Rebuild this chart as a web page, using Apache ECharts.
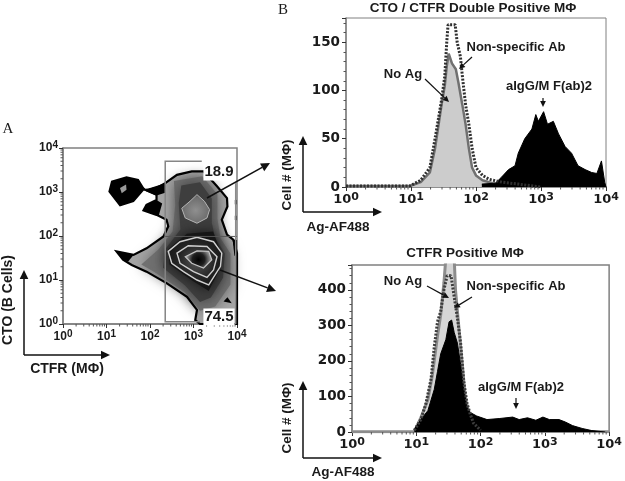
<!DOCTYPE html>
<html>
<head>
<meta charset="utf-8">
<style>
  html, body { margin: 0; padding: 0; background: #fff; }
  #chart { width: 625px; height: 481px; filter: blur(0.5px); }
</style>
<script src="https://cdn.jsdelivr.net/npm/echarts@6/dist/echarts.min.js"></script>
</head>
<body>
<div id="chart"></div>
<script>
// all x positions and panel A contours are in log10 decades, converted below
var topNoAgX = [0, 0.98, 1.15, 1.29, 1.37, 1.47, 1.52, 1.55, 1.58, 1.63, 1.69, 1.73, 1.79, 1.84, 1.89, 1.94, 2.0, 2.1, 2.25, 2.5, 2.7, 3.0];
var topNoAgY = [1, 1, 5, 15, 40, 85, 105, 125, 138, 128, 122, 108, 85, 65, 40, 20, 12, 7, 4, 3, 2, 0];
var topNonSpecX = [0, 0.98, 1.15, 1.29, 1.37, 1.42, 1.47, 1.52, 1.55, 1.57, 1.68, 1.71, 1.76, 1.79, 1.84, 1.89, 1.94, 2.0, 2.1, 2.2, 2.4, 2.65, 3.0];
var topNonSpecY = [1, 1, 7, 20, 50, 70, 90, 115, 150, 168, 168, 150, 135, 115, 85, 65, 40, 20, 12, 8, 5, 3, 0];
var topIgX = [2.09, 2.3, 2.39, 2.5, 2.6, 2.65, 2.75, 2.86, 2.92, 2.96, 3.04, 3.1, 3.19, 3.27, 3.37, 3.47, 3.57, 3.68, 3.78, 3.86, 3.93, 3.98, 4];
var topIgY = [3, 4, 10, 18, 22, 35, 50, 60, 75, 68, 78, 65, 68, 55, 42, 35, 22, 18, 15, 14, 27, 5, 0];

var botNoAgX = [0, 0.97, 1.07, 1.18, 1.25, 1.33, 1.38, 1.43, 1.46, 1.59, 1.61, 1.66, 1.71, 1.76, 1.82, 1.89, 2.0, 4];
var botNoAgY = [1, 1, 40, 90, 160, 270, 330, 420, 490, 490, 400, 300, 200, 100, 50, 15, 3, 1];
var botNonSpecX = [0.97, 1.07, 1.15, 1.23, 1.28, 1.33, 1.38, 1.43, 1.48, 1.54, 1.59, 1.64, 1.69, 1.74, 1.79, 1.84, 1.89, 2.0];
var botNonSpecY = [5, 35, 80, 150, 240, 310, 340, 400, 440, 440, 380, 320, 250, 140, 80, 50, 25, 5];
var botIgX = [0.97, 1.07, 1.18, 1.28, 1.33, 1.38, 1.46, 1.51, 1.55, 1.59, 1.64, 1.69, 1.74, 1.79, 1.84, 1.94, 2.1, 2.3, 2.5, 2.6, 2.73, 2.86, 2.97, 3.07, 3.22, 3.32, 3.43, 3.58, 3.73, 3.94];
var botIgY = [8, 35, 60, 120, 170, 220, 260, 310, 315, 280, 250, 190, 120, 70, 55, 45, 35, 38, 42, 35, 40, 33, 42, 35, 35, 28, 18, 10, 4, 0];

// panel A contour outlines, [CTFR, CTO] decades
var bodyOutline = [[2.35,3.2],[2.62,3.39],[2.96,3.47],[3.23,3.47],[3.54,3.13],[3.77,2.86],[3.78,2.67],[3.65,2.37],[3.77,2.03],[3.92,1.91],[4,1.61],[4,0],[3.15,0],[3.04,0.09],[3.08,0.32],[2.85,0.62],[2.38,0.93],[1.92,1.19],[1.58,1.34],[1.38,1.46],[1.23,1.65],[1.62,1.57],[1.92,1.72],[2.31,1.99],[2.42,2.22],[2.38,2.37],[2.15,2.48],[1.85,2.58],[1.92,2.71],[2.15,2.82],[2.15,2.94],[1.92,3.04],[2.15,3.09]];
var blobOutline = [[1.85,3.09],[1.73,3.28],[1.46,3.34],[1.12,3.24],[1.06,3.01],[1.31,2.69],[1.62,2.79],[1.85,3.05],[1.95,3.06],[2.35,3.18],[2.35,3.0],[2.15,2.94],[1.92,3.03]];
var blobCentre = [[1.31,3.09],[1.45,3.17],[1.46,3.05],[1.35,2.97]];
var notchEdge = [[1.85,2.58],[1.92,2.71],[2.15,2.82],[2.28,2.74],[2.2,2.46],[2.15,2.48]];
var tipEdge = [[1.23,1.65],[1.62,1.57],[1.5,1.42],[1.38,1.46]];
var spotEdge = [[3.69,0.51],[3.78,0.61],[3.88,0.47]];
var rightDotA = [[3.95,2.82],[3.99,2.82],[3.99,2.72],[3.95,2.72]];
var rightDotB = [[3.95,2.46],[3.99,2.46],[3.99,2.36],[3.95,2.36]];
var rightEdge = [[3.9,1.91],[4,1.91],[4,1.55],[3.94,1.55]];
// soft shading, lightest and widest first
var shadeWide = [[2.55,3.25],[3.2,3.36],[3.55,2.95],[3.55,2.4],[3.62,1.95],[3.85,1.6],[3.85,0.9],[3.5,0.4],[3.15,0.3],[2.8,0.72],[2.1,1.18],[1.8,1.35],[2.2,1.7],[2.52,2.1],[2.58,2.7]];
var shadeMid = [[2.72,3.15],[3.15,3.22],[3.42,2.85],[3.42,2.3],[3.5,1.95],[3.72,1.6],[3.68,1.05],[3.4,0.6],[3.15,0.5],[2.8,0.88],[2.3,1.28],[2.35,1.7],[2.7,2.15],[2.66,2.75]];
var shadeCore = [[2.85,2.05],[3.45,2.1],[3.6,1.7],[3.58,1.2],[3.35,0.75],[2.95,1.0],[2.45,1.35],[2.42,1.7]];
var upperPeak = [[3.08,2.94],[3.25,2.79],[3.37,2.6],[3.31,2.41],[3.08,2.29],[2.81,2.41],[2.73,2.63],[2.92,2.79]];
var lowerOuter = [[2.42,1.65],[2.69,1.87],[3.08,1.97],[3.46,1.87],[3.65,1.61],[3.62,1.31],[3.35,0.89],[3.08,1.0],[2.77,1.19],[2.5,1.38]];
var lowerMiddle = [[2.62,1.61],[2.88,1.78],[3.31,1.76],[3.54,1.53],[3.46,1.23],[3.31,1.06],[3.0,1.19],[2.69,1.38]];
var lowerInner = [[2.81,1.53],[3.08,1.66],[3.35,1.65],[3.42,1.46],[3.23,1.27],[2.96,1.38]];

var gateUpper = [[3.19,3.7],[2.35,3.7],[2.35,0.05],[3.15,0.05]];
var gateMiddle = [[2.35,1.99],[4,1.99]];
var gateRight = [[3.97,3.2],[3.97,0]];

var tickDecades = [0, 1, 2, 3];
var tickMultiples = [2, 3, 4, 5, 6, 7, 8, 9];
var topCountTicks = [0, 50, 100, 150];
var botCountTicks = [0, 100, 200, 300, 400];

var SANS = '"Liberation Sans", Arial, sans-serif';
var WIDE = '"DejaVu Sans", sans-serif';

var minorValues = [];
tickDecades.forEach(function (d) {
  tickMultiples.forEach(function (m) { minorValues.push(m * Math.pow(10, d)); });
});

function toLog(pairs) {
  return pairs.map(function (p) { return [Math.pow(10, p[0]), Math.pow(10, p[1])]; });
}

function zipHist(xs, ys) {
  return xs.map(function (x, i) { return [Math.pow(10, x), ys[i]]; });
}

// one polygon drawn through the axes of panel A
function contour(points, style, closed) {
  var real = toLog(points);
  return {
    type: 'custom',
    xAxisIndex: 0,
    yAxisIndex: 0,
    silent: true,
    data: [real[0]],
    renderItem: function (params, api) {
      return {
        type: closed === false ? 'polyline' : 'polygon',
        shape: { points: real.map(function (p) { return api.coord(p); }) },
        style: style
      };
    }
  };
}

// log-spaced short ticks, the log axis only gives even minor ticks
function logTicks(axis, horizontal) {
  return {
    type: 'custom',
    xAxisIndex: axis,
    yAxisIndex: axis,
    silent: true,
    clip: false,
    z: 6,
    data: minorValues.map(function (v) { return [v]; }),
    renderItem: function (params, api) {
      var v = api.value(0);
      var p = horizontal ? api.coord([v, axis === 0 ? 1 : 0]) : api.coord([1, v]);
      var shape = horizontal
        ? { x1: p[0], y1: p[1], x2: p[0], y2: p[1] + 2.5 }
        : { x1: p[0], y1: p[1], x2: p[0] - 2.5, y2: p[1] };
      return { type: 'line', shape: shape, style: { stroke: '#555', lineWidth: 1 } };
    }
  };
}

function histLine(axis, data, color, width, dash, fill, z) {
  var s = {
    type: 'line',
    xAxisIndex: axis,
    yAxisIndex: axis,
    data: data,
    symbol: 'none',
    silent: true,
    z: z,
    lineStyle: { color: color, width: width, type: dash || 'solid' }
  };
  if (fill) s.areaStyle = { color: fill, opacity: 1 };
  return s;
}

function logAxis(grid, size) {
  var family = size > 12 ? WIDE : SANS;
  return {
    type: 'log',
    logBase: 10,
    gridIndex: grid,
    min: 1,
    max: 10000,
    axisLine: { show: true, lineStyle: { color: '#808080', width: 1.5 } },
    axisTick: { show: true, length: 4, lineStyle: { color: '#333', width: 1 } },
    minorTick: { show: false },
    splitLine: { show: false },
    minorSplitLine: { show: false },
    axisLabel: {
      margin: 5,
      formatter: function (v) { return '{b|10}{s|' + Math.round(Math.log10(v)) + '}'; },
      rich: {
        b: { fontFamily: family, fontWeight: 'bold', fontSize: size, color: '#1a1a1a' },
        s: { fontFamily: family, fontWeight: 'bold', fontSize: size - 2, color: '#1a1a1a', verticalAlign: 'top', padding: [0, 0, 5, 0] }
      }
    }
  };
}

function countAxis(grid, max, ticks) {
  return {
    type: 'value',
    gridIndex: grid,
    min: 0,
    max: max,
    interval: ticks[1] - ticks[0],
    axisLine: { show: true, lineStyle: { color: '#808080', width: 1.5 } },
    axisTick: { show: true, length: 4, lineStyle: { color: '#333' } },
    minorTick: { show: true, splitNumber: 5, length: 2.5, lineStyle: { color: '#555' } },
    splitLine: { show: false },
    axisLabel: {
      margin: 6,
      showMaxLabel: false,
      fontFamily: WIDE,
      fontWeight: 'bold',
      fontSize: 13.5,
      color: '#1a1a1a',
      formatter: function (v) { return ticks.indexOf(v) >= 0 ? String(v) : ''; }
    }
  };
}

function label(text, x, y, size, extra) {
  var style = {
    text: text,
    x: x,
    y: y,
    fill: '#1a1a1a',
    font: 'bold ' + size + 'px ' + SANS,
    textAlign: 'center',
    textVerticalAlign: 'middle'
  };
  for (var k in extra) style[k] = extra[k];
  return { type: 'text', style: style, z: 100 };
}

function sideLabel(text, x, y, size) {
  var t = label(text, 0, 0, size);
  t.x = x;
  t.y = y;
  t.rotation = Math.PI / 2;
  return t;
}

function letter(text, x, y) {
  return label(text, x, y, 15, { font: '15px "Liberation Serif", serif' });
}

function arrow(x1, y1, x2, y2, width, head) {
  var a = Math.atan2(y2 - y1, x2 - x1);
  var bx = x2 - Math.cos(a) * head, by = y2 - Math.sin(a) * head;
  var nx = -Math.sin(a) * head * 0.48, ny = Math.cos(a) * head * 0.48;
  return [
    { type: 'line', z: 99, shape: { x1: x1, y1: y1, x2: bx, y2: by }, style: { stroke: '#111', lineWidth: width } },
    { type: 'polygon', z: 99, shape: { points: [[x2, y2], [bx + nx, by + ny], [bx - nx, by - ny]] }, style: { fill: '#111' } }
  ];
}

var innerFill = new echarts.graphic.RadialGradient(0.5, 0.5, 0.62, [
  { offset: 0, color: '#020202' },
  { offset: 0.55, color: '#1e1e1e' },
  { offset: 1, color: '#8a8a8a' }
]);
var middleFill = new echarts.graphic.RadialGradient(0.5, 0.5, 0.65, [
  { offset: 0, color: '#555' },
  { offset: 1, color: '#1c1c1c' }
]);
var outerFill = new echarts.graphic.RadialGradient(0.5, 0.5, 0.65, [
  { offset: 0, color: '#3a3a3a' },
  { offset: 1, color: '#141414' }
]);
var upperFill = new echarts.graphic.RadialGradient(0.5, 0.55, 0.6, [
  { offset: 0, color: '#8f8f8f' },
  { offset: 0.75, color: '#6e6e6e' },
  { offset: 1, color: '#3c3c3c' }
]);

var series = [
  contour(bodyOutline, { fill: '#a6a6a6' }),
  contour(shadeWide, { fill: '#707070', shadowBlur: 14, shadowColor: '#707070' }),
  contour(shadeMid, { fill: '#3e3e3e', shadowBlur: 14, shadowColor: '#3e3e3e' }),
  contour(shadeCore, { fill: '#161616', shadowBlur: 12, shadowColor: '#161616' }),
  contour(bodyOutline, { fill: 'none', stroke: '#000', lineWidth: 2.2 }),
  contour(blobOutline, { fill: '#000', stroke: '#000', lineWidth: 1.5 }),
  contour(blobCentre, { fill: '#9a9a9a' }),
  contour(notchEdge, { fill: '#000' }),
  contour(tipEdge, { fill: '#000' }),
  contour(rightEdge, { fill: '#000' }),
  contour(rightDotA, { fill: '#000' }),
  contour(rightDotB, { fill: '#000' }),
  contour(upperPeak, { fill: upperFill, stroke: '#b5b5b5', lineWidth: 1 }),
  contour(lowerOuter, { fill: outerFill, stroke: '#d0d0d0', lineWidth: 1.4 }),
  contour(lowerMiddle, { fill: middleFill, stroke: '#d0d0d0', lineWidth: 1.4 }),
  contour(lowerInner, { fill: innerFill, stroke: '#c4c4c4', lineWidth: 1.2 }),
  contour(spotEdge, { fill: '#000' }),
  contour(gateUpper, { fill: 'none', stroke: '#858585', lineWidth: 1.5 }, false),
  contour(gateMiddle, { fill: 'none', stroke: '#555', lineWidth: 1 }, false),
  contour(gateRight, { fill: 'none', stroke: '#8a8a8a', lineWidth: 1.5 }, false),
  logTicks(0, true),
  logTicks(0, false),

  histLine(1, zipHist(topNoAgX, topNoAgY), '#707070', 2.5, null, '#cccccc', 2),
  histLine(1, zipHist(topIgX, topIgY), '#000', 1, null, '#000', 3),
  histLine(1, zipHist(topNonSpecX, topNonSpecY), '#303030', 3, [2, 1.5], null, 4),
  logTicks(1, true),

  histLine(2, zipHist(botNoAgX, botNoAgY), '#8c8c8c', 3, null, '#d6d6d6', 2),
  histLine(2, zipHist(botIgX, botIgY), '#000', 1, null, '#000', 3),
  histLine(2, zipHist(botNonSpecX, botNonSpecY), '#3c3c3c', 3, [2, 1.5], null, 4),
  logTicks(2, true)
];

var graphics = [
  letter('A', 8, 129),
  letter('B', 283, 10),

  label('18.9', 219, 172, 15, { backgroundColor: '#fff', padding: [1, 1] }),
  label('74.5', 219, 317, 15, { backgroundColor: '#fff', padding: [1, 1] }),
  sideLabel('CTO (B Cells)', 8, 300, 14),
  label('CTFR (M\u03a6)', 67, 369, 14),

  label('CTO / CTFR Double Positive M\u03a6', 473, 8, 13.5),
  sideLabel('Cell # (M\u03a6)', 287, 175, 13.5),
  label('Ag-AF488', 338, 227, 13.5),
  label('Non-specific Ab', 516, 47, 13),
  label('No Ag', 403, 74, 13),
  label('aIgG/M F(ab)2', 549, 86, 13),

  label('CTFR Positive M\u03a6', 465, 253, 13.5),
  sideLabel('Cell # (M\u03a6)', 287, 418, 13.5),
  label('Ag-AF488', 343, 472, 13.5),
  label('No Ag', 403, 281, 13),
  label('Non-specific Ab', 516, 286, 13),
  label('aIgG/M F(ab)2', 521, 387, 13)
].concat(
  arrow(207, 198, 270, 163, 1.5, 9),
  arrow(220, 270, 276, 291, 1.5, 9),
  arrow(24, 355, 24, 270, 1.5, 9),
  arrow(24, 355, 110, 355, 1.5, 9),
  arrow(303, 212, 303, 136, 1.5, 9),
  arrow(303, 212, 382, 212, 1.5, 9),
  arrow(303, 458, 303, 381, 1.5, 9),
  arrow(303, 458, 382, 458, 1.5, 9),
  arrow(425, 79, 449, 102, 1.2, 6),
  arrow(472, 57, 459, 69, 1.2, 6),
  arrow(543, 98, 543, 107, 1.2, 6),
  arrow(427, 286, 449, 298, 1.2, 6),
  arrow(472, 297, 454, 308, 1.2, 6),
  arrow(516, 398, 516, 409, 1.2, 6)
);

var chart = echarts.init(document.getElementById('chart'));
chart.setOption({
  animation: false,
  backgroundColor: '#fff',
  grid: [
    { left: 63, top: 148, width: 174, height: 176, show: true, borderColor: '#808080', borderWidth: 1.5, backgroundColor: 'transparent' },
    { left: 346, top: 18, width: 260, height: 169, show: true, borderColor: '#808080', borderWidth: 1, backgroundColor: 'transparent' },
    { left: 352, top: 265, width: 260, height: 167, show: true, borderColor: '#808080', borderWidth: 1.5, backgroundColor: 'transparent' }
  ],
  xAxis: [logAxis(0, 12), logAxis(1, 13), logAxis(2, 13)],
  yAxis: [
    logAxis(0, 12),
    countAxis(1, 175, topCountTicks),
    countAxis(2, 470, botCountTicks)
  ],
  series: series,
  graphic: graphics
});
</script>
</body>
</html>
